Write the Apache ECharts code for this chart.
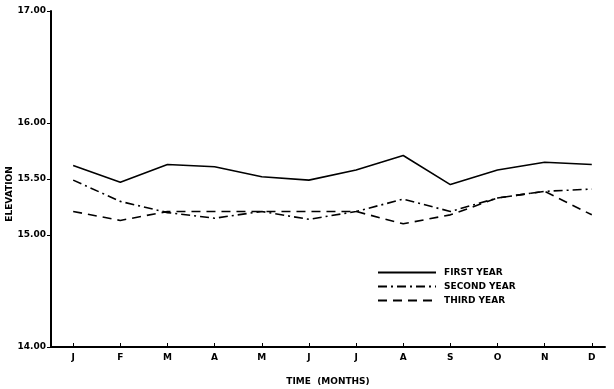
<!DOCTYPE html>
<html>
<head>
<meta charset="utf-8">
<script src="https://cdn.jsdelivr.net/npm/echarts@6/dist/echarts.min.js"></script>
<style>
  html, body { margin: 0; padding: 0; background: #fff; }
  #chart { width: 614px; height: 389px; }
</style>
</head>
<body>
<div id="chart"></div>
<script>
// months along the bottom
const months = ["J", "F", "M", "A", "M", "J", "J", "A", "S", "O", "N", "D"];
// elevations
const firstYear = [15.62, 15.47, 15.63, 15.61, 15.52, 15.49, 15.58, 15.71, 15.45, 15.58, 15.65, 15.63];
const secondYear = [15.49, 15.30, 15.20, 15.15, 15.21, 15.14, 15.21, 15.32, 15.21, 15.33, 15.39, 15.41];
const thirdYear = [15.21, 15.13, 15.21, 15.21, 15.21, 15.21, 15.21, 15.10, 15.18, 15.33, 15.39, 15.18];
const yTicks = [14, 15, 15.5, 16, 17];
const seriesNames = ["FIRST YEAR", "SECOND YEAR", "THIRD YEAR"];

const font = "DejaVu Sans";
const toPoints = (arr) => arr.map((v, i) => [i, v]);
const monthIdx = months.map((m, i) => i);

const chart = echarts.init(document.getElementById("chart"));
chart.setOption({
  animation: false,
  backgroundColor: "#fff",
  grid: { left: 51, right: 9, top: 11, bottom: 42, outerBoundsMode: "none", containLabel: false },
  legend: {
    orient: "vertical",
    left: 372,
    top: 263,
    itemWidth: 58,
    itemHeight: 10,
    itemGap: 5,
    itemStyle: { opacity: 0 },
    textStyle: { fontFamily: font, fontSize: 9, fontWeight: "bold", color: "#000", padding: [0, 0, 0, 3] },
    data: seriesNames
  },
  xAxis: {
    type: "value",
    min: -0.47,
    max: 11.28,
    name: "TIME  (MONTHS)",
    nameLocation: "middle",
    nameGap: 30,
    nameTextStyle: { fontFamily: font, fontSize: 9, fontWeight: "bold", color: "#000" },
    axisLine: { onZero: false, lineStyle: { color: "#000", width: 2 } },
    axisTick: { customValues: monthIdx, length: 4, inside: true, lineStyle: { color: "#000" } },
    axisLabel: {
      customValues: monthIdx,
      formatter: (v) => months[Math.round(v)],
      margin: 6,
      fontFamily: font, fontSize: 9, fontWeight: "bold", color: "#000"
    },
    splitLine: { show: false }
  },
  yAxis: {
    type: "value",
    min: 14,
    max: 17,
    name: "ELEVATION",
    nameLocation: "middle",
    nameRotate: 90,
    nameGap: 37,
    nameMoveOverlap: false,
    nameTextStyle: { fontFamily: font, fontSize: 9, fontWeight: "bold", color: "#000", padding: [0, 30, 0, 0] },
    axisLine: { show: true, onZero: false, lineStyle: { color: "#000", width: 2 } },
    axisTick: { show: true, customValues: yTicks, length: 4, lineStyle: { color: "#000" } },
    axisLabel: {
      customValues: yTicks,
      formatter: (v) => v.toFixed(2),
      margin: 5,
      fontFamily: font, fontSize: 9, fontWeight: "bold", color: "#000"
    },
    splitLine: { show: false }
  },
  series: [
    {
      name: seriesNames[0], type: "line", symbol: "none",
      lineStyle: { color: "#000", width: 1.6, type: "solid" },
      itemStyle: { color: "#000" },
      data: toPoints(firstYear)
    },
    {
      name: seriesNames[1], type: "line", symbol: "none",
      lineStyle: { color: "#000", width: 1.6, type: [9, 4, 2, 4] },
      itemStyle: { color: "#000" },
      data: toPoints(secondYear)
    },
    {
      name: seriesNames[2], type: "line", symbol: "none",
      lineStyle: { color: "#000", width: 1.6, type: [9, 6] },
      itemStyle: { color: "#000" },
      data: toPoints(thirdYear)
    }
  ]
});
</script>
</body>
</html>
